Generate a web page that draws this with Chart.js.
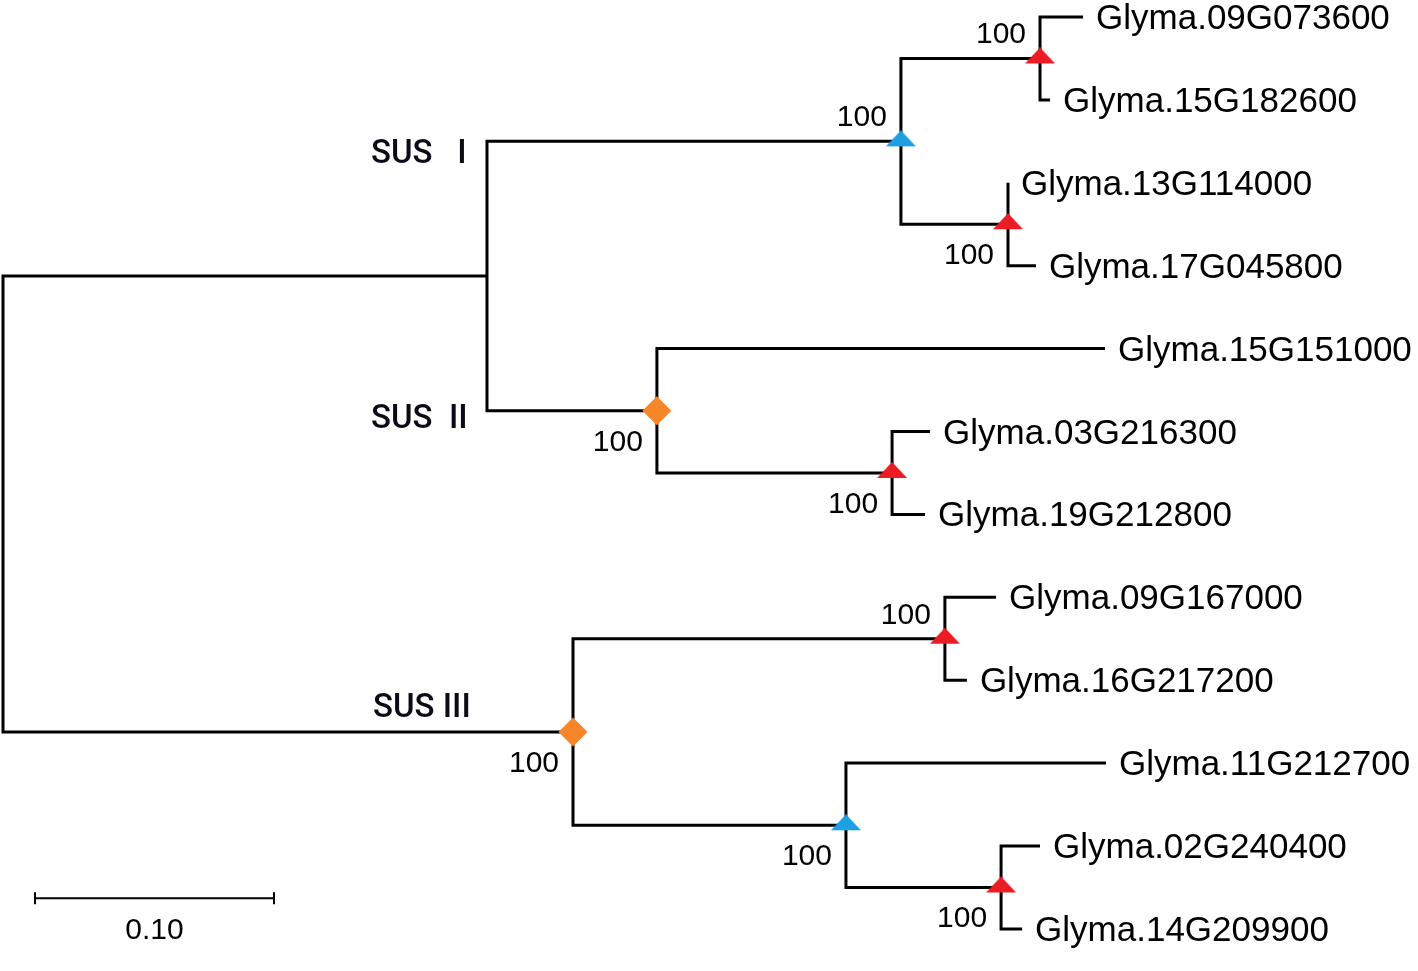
<!DOCTYPE html>
<html><head><meta charset="utf-8">
<script src="https://cdn.jsdelivr.net/npm/chart.js@4/dist/chart.umd.min.js"></script>
<style>html,body{margin:0;padding:0;background:#fff;}#wrap{width:1418px;height:971px;position:relative;}</style>
</head><body><div id="wrap"><canvas id="c"></canvas></div>
<script>
// ---- data ----
const leafNames = ['Glyma.09G073600','Glyma.15G182600','Glyma.13G114000','Glyma.17G045800','Glyma.15G151000','Glyma.03G216300','Glyma.19G212800','Glyma.09G167000','Glyma.16G217200','Glyma.11G212700','Glyma.02G240400','Glyma.14G209900'];
const leafDepth = [0.4519,0.4381,0.4205,0.4322,0.4611,0.3879,0.3858,0.4155,0.4033,0.4615,0.4339,0.4264];
const nodeNames = ['root','SUS I+II','SUS I','A','B','SUS II','C','SUS III','D','E','F'];
const nodeDepth = [0,0.2025,0.3757,0.4339,0.4205,0.2736,0.3720,0.2385,0.3941,0.3527,0.4176];
const nodeChildren = [['SUS I+II','SUS III'],['SUS I','SUS II'],['A','B'],[0,1],[2,3],[4,'C'],[5,6],['D','E'],[7,8],[9,'F'],[10,11]];
const nodeSupport = [null,null,100,100,100,100,100,100,100,100,100];
const nodeMarker = [null,null,'blue','red','red','orange','red','orange','red','blue','red'];
const cladeNames = ['SUS   I','SUS  II','SUS III'];
const cladeNodes = ['SUS I','SUS II','SUS III'];
const scaleBarValue = 0.10;
const scaleBarLabel = '0.10';

// ---- layout ----
const supportAbove = ['SUS I','A','D'];
const cladeLabelPos = { 'SUS I': {dx:-116, dy:10}, 'SUS II': {dx:-116, dy:5}, 'SUS III': {dx:-200, dy:-27} };
const cladeAnchor = { 'SUS I':'SUS I+II', 'SUS II':'SUS I+II', 'SUS III':'SUS III' };
const scaleBarStart = 0.0134, scaleBarY = 10.63;

// ---- build tree coordinates ----
function nodeIdx(n){ return nodeNames.indexOf(n); }
function pos(ref){
  if (typeof ref === 'number') return {x: leafDepth[ref], y: ref};
  const i = nodeIdx(ref);
  const ch = nodeChildren[i].map(pos);
  return {x: nodeDepth[i], y: (ch[0].y + ch[1].y)/2};
}
const treeSets = [];
const markers = {red:[], blue:[], orange:[]};
const nodePos = {};
nodeNames.forEach((n,i)=>{
  const p = pos(n); nodePos[n] = p;
  const [a,b] = nodeChildren[i].map(pos);
  treeSets.push({
    type:'scatter', showLine:true, data:[{x:a.x,y:a.y},{x:p.x,y:a.y},{x:p.x,y:b.y},{x:b.x,y:b.y}],
    borderColor:'#000', borderWidth:3, pointRadius:0, borderJoinStyle:'miter', borderCapStyle:'butt', tension:0, order:5, clip:false
  });
  if (nodeMarker[i]) markers[nodeMarker[i]].push({x:p.x,y:p.y});
});

function triCanvas(color){
  const c = document.createElement('canvas'); c.width = 30; c.height = 22;
  const g = c.getContext('2d'); g.fillStyle = color;
  g.beginPath(); g.moveTo(15,0); g.lineTo(30,16); g.lineTo(0,16); g.closePath(); g.fill();
  return c;
}
const datasets = [
  {type:'scatter', data:markers.red, pointStyle:triCanvas('#ec1c24'), pointRadius:11, order:1, clip:false},
  {type:'scatter', data:markers.blue, pointStyle:triCanvas('#1e9fe3'), pointRadius:11, order:1, clip:false},
  {type:'scatter', data:markers.orange, pointStyle:'rectRot', pointRadius:14.5, backgroundColor:'#f7862a', borderWidth:0, pointBorderWidth:0, order:1, clip:false},
  {type:'scatter', showLine:true, data:[{x:scaleBarStart,y:scaleBarY},{x:scaleBarStart+scaleBarValue,y:scaleBarY}],
   borderColor:'#000', borderWidth:2, pointStyle:'line', rotation:90, pointRadius:6, pointBorderWidth:2, pointBorderColor:'#000', order:2, clip:false},
  ...treeSets
];

const textPlugin = {
  id:'treeText',
  afterDatasetsDraw(chart){
    const ctx = chart.ctx, xs = chart.scales.x, ys = chart.scales.y;
    const capMid = (font)=>{ ctx.font = font; return ctx.measureText('H').actualBoundingBoxAscent/2; };
    ctx.save();
    ctx.fillStyle = '#000'; ctx.textBaseline = 'alphabetic';
    // leaf labels
    const lf = '35px "Liberation Sans", Arial, sans-serif';
    const lm = capMid(lf); ctx.textAlign = 'left';
    leafNames.forEach((n,i)=>{ ctx.fillText(n, xs.getPixelForValue(leafDepth[i]) + 13, ys.getPixelForValue(i) + lm); });
    // support values
    const sf = '30px "Liberation Sans", Arial, sans-serif';
    const sm = capMid(sf); ctx.textAlign = 'right';
    nodeNames.forEach((n,i)=>{
      if (nodeSupport[i]==null) return;
      const p = nodePos[n];
      const px = xs.getPixelForValue(p.x) - 14, py = ys.getPixelForValue(p.y);
      const cy = supportAbove.includes(n) ? py - 25 : py + 30;
      ctx.fillText(String(nodeSupport[i]), px, cy + sm);
    });
    // clade labels
    const cf = '500 33px Roboto, "Noto Sans", sans-serif';
    const cm = capMid(cf); ctx.textAlign = 'left'; ctx.fillStyle = '#0b0b18';
    cladeNames.forEach((t,i)=>{
      const key = cladeNodes[i], o = cladeLabelPos[key];
      const a = nodePos[cladeAnchor[key]], self = nodePos[key];
      ctx.fillText(t, xs.getPixelForValue(a.x) + o.dx, ys.getPixelForValue(self.y) + o.dy + cm);
    });
    // scale bar label
    const bf = '30px "Liberation Sans", Arial, sans-serif';
    const bm = capMid(bf); ctx.textAlign = 'center'; ctx.fillStyle = '#000';
    ctx.fillText(scaleBarLabel, xs.getPixelForValue(scaleBarStart + scaleBarValue/2), ys.getPixelForValue(scaleBarY) + 31 + bm);
    ctx.restore();
  }
};

new Chart(document.getElementById('c'), {
  type:'scatter',
  data:{datasets},
  options:{
    responsive:true, maintainAspectRatio:false, animation:false, events:[],
    layout:{padding:0, autoPadding:false},
    plugins:{legend:{display:false}, tooltip:{enabled:false}},
    scales:{
      x:{type:'linear', display:false, min:-3/2390, max:1415/2390},
      y:{type:'linear', display:false, reverse:true, min:-17/82.9, max:954/82.9}
    }
  },
  plugins:[textPlugin]
});
</script></body></html>
